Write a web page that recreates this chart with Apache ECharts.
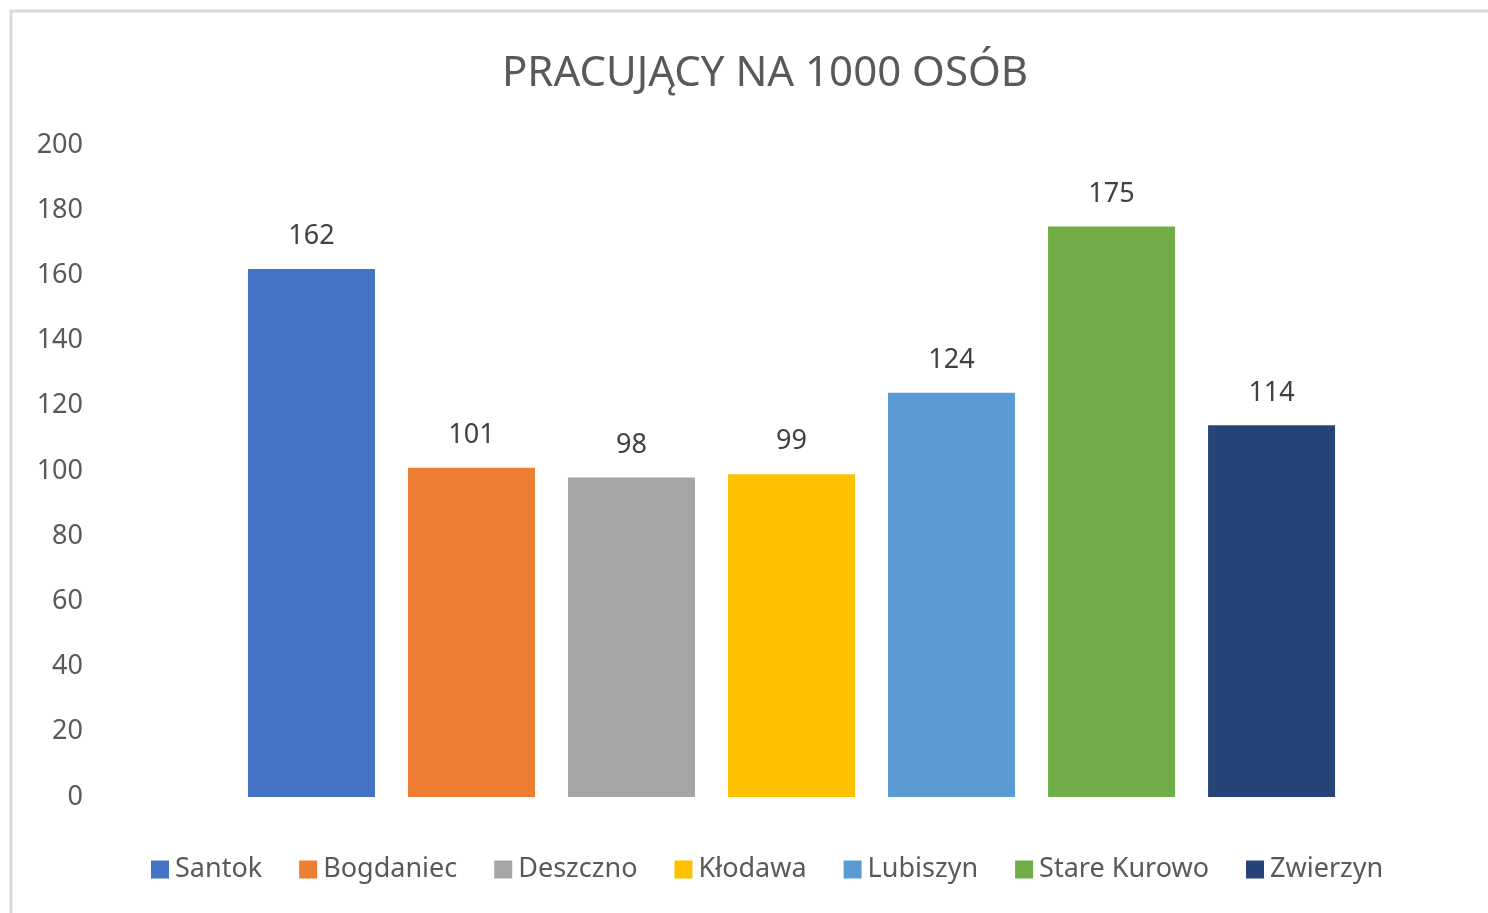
<!DOCTYPE html>
<html>
<head>
<meta charset="utf-8">
<script src="https://cdn.jsdelivr.net/npm/echarts@6/dist/echarts.min.js"></script>
<style>
	html, body { margin: 0; padding: 0; background: #fff; }
	#chart { width: 1488px; height: 913px; }
</style>
</head>
<body>
<div id="chart"></div>
<script>
var gminy = ['Santok', 'Bogdaniec', 'Deszczno', 'Kłodawa', 'Lubiszyn', 'Stare Kurowo', 'Zwierzyn'];
var pracujacy = [162, 101, 98, 99, 124, 175, 114];
var kolory = ['#4472c4', '#ed7d31', '#a5a5a5', '#ffc000', '#5b9bd5', '#70ad47', '#264478'];
var yTicks = [0, 20, 40, 60, 80, 100, 120, 140, 160, 180, 200];

var fontName = 'Noto Sans';
var textColor = '#595959';

var mainChart = echarts.init(document.getElementById('chart'));

// one category, one series per gmina (like the Excel chart)
var seriesList = [];
for (var i = 0; i < gminy.length; i++) {
	seriesList.push({
		name: gminy[i],
		type: 'bar',
		data: [pracujacy[i]],
		barWidth: 127,
		barGap: '26%',
		itemStyle: { color: kolory[i] },
		label: {
			show: true,
			position: 'top',
			distance: 19,
			color: '#404040',
			fontFamily: fontName,
			fontSize: 27
		}
	});
}

var chartOption = {
	animation: false,
	backgroundColor: '#fff',
	graphic: [{
		type: 'rect',
		shape: { x: 11, y: 11, width: 1600, height: 1000 },
		style: { fill: 'none', stroke: '#d9d9d9', lineWidth: 3 },
		silent: true
	}],
	title: {
		text: 'PRACUJĄCY NA 1000 OSÓB',
		left: 760,
		textAlign: 'center',
		top: 48,
		textStyle: {
			color: textColor,
			fontFamily: fontName,
			fontWeight: 'normal',
			fontSize: 42
		}
	},
	legend: {
		bottom: 25,
		left: 146,
		itemWidth: 18,
		itemHeight: 18,
		itemGap: 37,
		icon: 'rect',
		selectedMode: false,
		data: gminy,
		textStyle: {
			color: textColor,
			fontFamily: fontName,
			fontSize: 27,
			padding: [0, 0, 0, 1]
		}
	},
	grid: {
		top: 145,
		bottom: 116,
		left: 95,
		right: 0,
		containLabel: false
	},
	xAxis: {
		type: 'category',
		data: [''],
		axisLine: { show: false },
		axisTick: { show: false },
		axisLabel: { show: false }
	},
	yAxis: {
		type: 'value',
		min: yTicks[0],
		max: yTicks[yTicks.length - 1],
		interval: yTicks[1] - yTicks[0],
		splitLine: { show: false },
		axisLine: { show: false },
		axisTick: { show: false },
		axisLabel: {
			color: textColor,
			fontFamily: fontName,
			fontSize: 27,
			margin: 12,
			padding: [3, 0, 0, 0]
		}
	},
	series: seriesList
};

mainChart.setOption(chartOption);
</script>
</body>
</html>
